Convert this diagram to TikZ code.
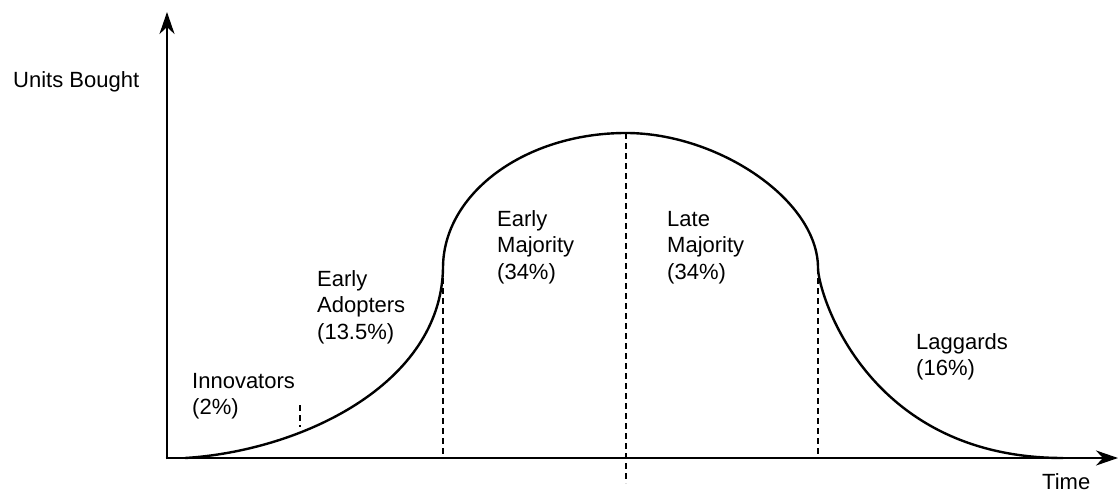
\documentclass[tikz,border=0pt]{standalone}
\usepackage{fontspec}
\setmainfont{Liberation Sans}
\usetikzlibrary{arrows.meta}
\begin{document}
\begin{tikzpicture}[x=1pt,y=-1pt,
  axis/.style={line width=2.8pt,-{Stealth[length=22pt,width=15pt,inset=7pt]}},
  curve/.style={line width=2.4pt},
  divider/.style={line width=2pt,dash pattern=on 6pt off 4pt},
  lbl/.style={anchor=base west,align=left,inner sep=0pt,font=\fontsize{22}{26.5}\selectfont}]
\useasboundingbox (0,0) rectangle (1118,492);
% axes
\coordinate (O) at (167,458);
\coordinate (ytop) at (167,12);
\coordinate (xend) at (1118,458);
\draw[axis] (167,459.4) -- (ytop);
\draw[axis] (165.6,458) -- (xend);
% curve
\coordinate (c0) at (185,458);
\coordinate (c1) at (443,268);
\coordinate (peak) at (626,133);
\coordinate (c2) at (818,268);
\coordinate (c3) at (1063,458);
\draw[curve] (c0) .. controls (300,451) and (441,385) .. (c1)
  .. controls (443,193.5) and (525,133) .. (peak)
  .. controls (718,133) and (818,200) .. (c2)
  .. controls (818,292) and (866,458) .. (c3);
% dividers
\coordinate (d1a) at (300,405);
\coordinate (d1b) at (300,427);
\draw[divider] (d1a) -- (d1b);
\draw[divider] (443,268) -- (443,458);
\draw[divider] (peak) -- (626,483);
\draw[divider] (818,268) -- (818,458);
% labels (anchor = baseline of last line)
\node[lbl] (units) at (13,88) {Units Bought};
\node[lbl] (time) at (1042,489) {Time};
\node[lbl] (innov) at (192,414.5) {Innovators\\(2\%)};
\node[lbl] (early) at (317,339) {Early\\Adopters\\(13.5\%)};
\node[lbl] (emaj) at (497,279) {Early\\Majority\\(34\%)};
\node[lbl] (lmaj) at (667,279) {Late\\Majority\\(34\%)};
\node[lbl] (lag) at (916,375.5) {Laggards\\(16\%)};
\end{tikzpicture}
\end{document}
